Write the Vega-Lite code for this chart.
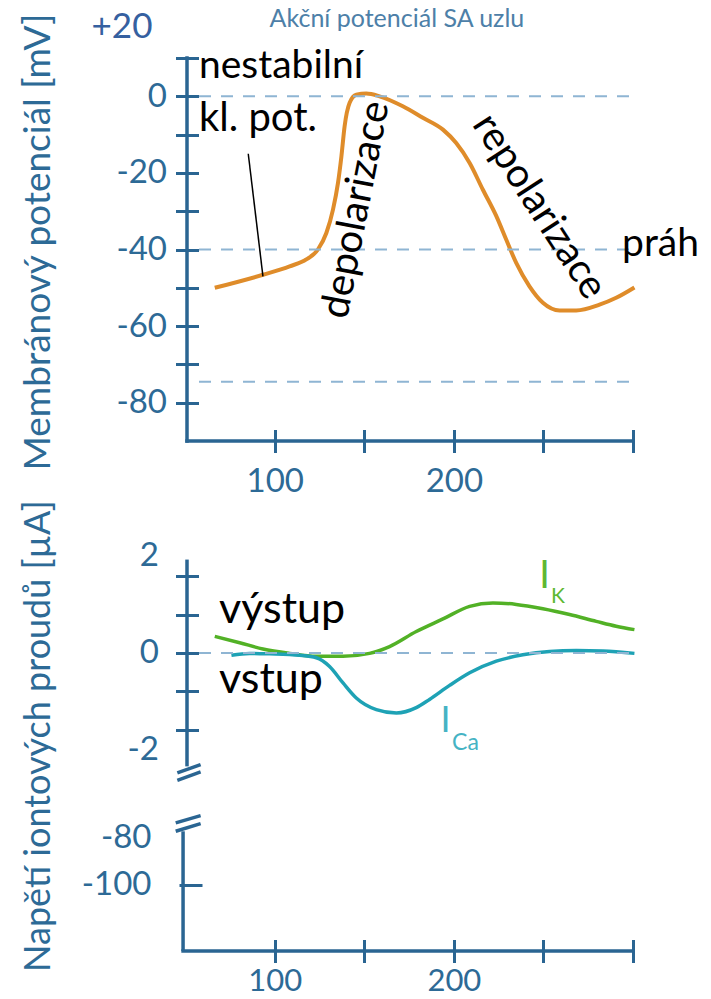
{
  "$schema": "https://vega.github.io/schema/vega-lite/v6.json",
  "background": "white",
  "padding": {"left": 18, "top": 6, "right": 5, "bottom": 0},
  "bounds": "flush",
  "spacing": 0,
  "config": {
    "view": {"stroke": null},
    "font": "Lato",
    "axis": {
      "domain": false, "grid": false,
      "tickColor": "#2a6592", "tickWidth": 3, "tickSize": 23, "offset": -11.5,
      "labelColor": "#2d6a96", "labelFont": "Lato", "labelFontSize": 33,
      "titleColor": "#2d6a96", "titleFont": "Lato", "titleFontSize": 37, "titleFontWeight": "normal",
      "labelFlush": false, "labelOverlap": false
    }
  },
  "vconcat": [
    {
      "width": 446, "height": 383,
      "layer": [
        {
          "data": {"values": [
            {"t": 66.5, "v": -50.0}, {"t": 93.4, "v": -46.6}, {"t": 108.3, "v": -44.4}, {"t": 117.6, "v": -42.6},
            {"t": 124.1, "v": -40.0}, {"t": 128.8, "v": -35.7}, {"t": 132.5, "v": -29.6}, {"t": 135.3, "v": -22.6},
            {"t": 137.2, "v": -15.7}, {"t": 139.0, "v": -7.8}, {"t": 141.8, "v": -1.7}, {"t": 145.5, "v": 0.4},
            {"t": 151.1, "v": 0.7}, {"t": 158.5, "v": 0.0}, {"t": 171.5, "v": -2.6}, {"t": 182.7, "v": -5.6},
            {"t": 193.9, "v": -8.7}, {"t": 201.3, "v": -12.2}, {"t": 208.8, "v": -17.4}, {"t": 216.2, "v": -24.4},
            {"t": 223.7, "v": -31.3}, {"t": 229.2, "v": -37.4}, {"t": 234.8, "v": -43.5}, {"t": 242.2, "v": -49.6},
            {"t": 249.7, "v": -53.9}, {"t": 259.0, "v": -55.9}, {"t": 268.3, "v": -55.9}, {"t": 281.3, "v": -54.4},
            {"t": 290.6, "v": -52.6}, {"t": 300.8, "v": -49.9}
          ]},
          "mark": {"type": "line", "color": "#df8c2a", "strokeWidth": 4, "interpolate": "monotone"},
          "encoding": {
            "x": {"field": "t", "type": "quantitative", "scale": {"domain": [51, 300], "nice": false, "zero": false},
                  "axis": {"values": [100, 150, 200, 250, 300], "labelExpr": "datum.value == 100 || datum.value == 200 ? datum.label : ''", "labelPadding": 13, "title": null}},
            "y": {"field": "v", "type": "quantitative", "scale": {"domain": [-90, 10], "nice": false, "zero": false},
                  "axis": {"values": [10, 0, -10, -20, -30, -40, -50, -60, -70, -80],
                           "labelExpr": "datum.value % 20 == 0 ? replace(datum.label, '\u2212', '-') : ''",
                           "labelPadding": 9, "title": "Membránový potenciál [mV]",
                           "titleX": -149.5, "titleY": 183.6, "titleAngle": 270, "titleAlign": "center", "titleBaseline": "alphabetic"}}
          }
        },
        {
          "data": {"values": [{"v": 0}, {"v": -40}, {"v": -74.5}]},
          "mark": {"type": "rule", "color": "#8fb5d3", "strokeWidth": 2, "strokeDash": [12, 10]},
          "encoding": {"x": {"datum": 57.7}, "x2": {"datum": 300.6}, "y": {"field": "v", "type": "quantitative"}}
        },
        {
          "data": {"values": [{}]},
          "mark": {"type": "rule", "color": "#2a6592", "strokeWidth": 3.5, "strokeCap": "square"},
          "encoding": {"x": {"datum": 51}, "y": {"datum": -90}, "y2": {"datum": 10}}
        },
        {
          "data": {"values": [{}]},
          "mark": {"type": "rule", "color": "#2a6592", "strokeWidth": 3.5, "strokeCap": "square"},
          "encoding": {"x": {"datum": 51}, "x2": {"datum": 300}, "y": {"datum": -90}}
        },
        {
          "data": {"values": [{}]},
          "mark": {"type": "rule", "color": "black", "strokeWidth": 1.5},
          "encoding": {"x": {"datum": 85.2}, "x2": {"datum": 93.4}, "y": {"datum": -15.0}, "y2": {"datum": -47.0}}
        },
        {
          "data": {"values": [{}]},
          "mark": {"type": "text", "text": "Akční potenciál SA uzlu", "fontSize": 25, "color": "#4d80a8", "align": "center", "baseline": "alphabetic"},
          "encoding": {"x": {"datum": 168.2}, "y": {"datum": 18.2}}
        },
        {
          "data": {"values": [{}]},
          "mark": {"type": "text", "text": "+20", "fontSize": 35, "color": "#3560a0", "align": "center", "baseline": "middle"},
          "encoding": {"x": {"datum": 14.7}, "y": {"datum": 18.0}}
        },
        {
          "data": {"values": [{}]},
          "mark": {"type": "text", "text": "nestabilní", "fontSize": 39, "color": "black", "align": "left", "baseline": "alphabetic"},
          "encoding": {"x": {"datum": 57.7}, "y": {"datum": 4.9}}
        },
        {
          "data": {"values": [{}]},
          "mark": {"type": "text", "text": "kl. pot.", "fontSize": 40, "color": "black", "align": "left", "baseline": "alphabetic"},
          "encoding": {"x": {"datum": 57.7}, "y": {"datum": -9.1}}
        },
        {
          "data": {"values": [{}]},
          "mark": {"type": "text", "text": "depolarizace", "fontSize": 40, "color": "black", "align": "center", "baseline": "middle", "angle": 281},
          "encoding": {"x": {"datum": 145.4}, "y": {"datum": -29.6}}
        },
        {
          "data": {"values": [{}]},
          "mark": {"type": "text", "text": "repolarizace", "fontSize": 40, "color": "black", "align": "center", "baseline": "middle", "angle": 57},
          "encoding": {"x": {"datum": 247.6}, "y": {"datum": -28.8}}
        },
        {
          "data": {"values": [{}]},
          "mark": {"type": "text", "text": "práh", "fontSize": 39, "color": "black", "align": "left", "baseline": "alphabetic"},
          "encoding": {"x": {"datum": 293.9}, "y": {"datum": -41.8}}
        }
      ]
    },
    {
      "width": 446, "height": 391,
      "layer": [
        {
          "data": {"values": [
            {"t": 66.5, "i": 0.34, "ion": "K"}, {"t": 80.4, "i": 0.21, "ion": "K"}, {"t": 93.4, "i": 0.08, "ion": "K"},
            {"t": 108.3, "i": -0.01, "ion": "K"}, {"t": 123.2, "i": -0.07, "ion": "K"}, {"t": 138.1, "i": -0.07, "ion": "K"},
            {"t": 152.9, "i": -0.01, "ion": "K"}, {"t": 164.1, "i": 0.13, "ion": "K"}, {"t": 179.0, "i": 0.44, "ion": "K"},
            {"t": 193.9, "i": 0.70, "ion": "K"}, {"t": 208.8, "i": 0.96, "ion": "K"}, {"t": 221.8, "i": 1.03, "ion": "K"},
            {"t": 234.8, "i": 1.00, "ion": "K"}, {"t": 249.7, "i": 0.91, "ion": "K"}, {"t": 264.6, "i": 0.79, "ion": "K"},
            {"t": 279.5, "i": 0.65, "ion": "K"}, {"t": 290.6, "i": 0.55, "ion": "K"}, {"t": 300.8, "i": 0.48, "ion": "K"},
            {"t": 75.8, "i": -0.05, "ion": "Ca"}, {"t": 86.0, "i": -0.01, "ion": "Ca"}, {"t": 97.2, "i": -0.02, "ion": "Ca"},
            {"t": 113.9, "i": -0.05, "ion": "Ca"}, {"t": 123.2, "i": -0.10, "ion": "Ca"}, {"t": 130.6, "i": -0.28, "ion": "Ca"},
            {"t": 138.1, "i": -0.62, "ion": "Ca"}, {"t": 145.5, "i": -0.93, "ion": "Ca"}, {"t": 156.7, "i": -1.17, "ion": "Ca"},
            {"t": 167.9, "i": -1.24, "ion": "Ca"}, {"t": 179.0, "i": -1.13, "ion": "Ca"}, {"t": 186.4, "i": -0.96, "ion": "Ca"},
            {"t": 197.6, "i": -0.67, "ion": "Ca"}, {"t": 208.8, "i": -0.41, "ion": "Ca"}, {"t": 223.7, "i": -0.17, "ion": "Ca"},
            {"t": 238.5, "i": -0.04, "ion": "Ca"}, {"t": 253.4, "i": 0.03, "ion": "Ca"}, {"t": 268.3, "i": 0.05, "ion": "Ca"},
            {"t": 283.2, "i": 0.04, "ion": "Ca"}, {"t": 300.8, "i": -0.01, "ion": "Ca"}
          ]},
          "mark": {"type": "line", "strokeWidth": 3.5, "interpolate": "monotone"},
          "encoding": {
            "x": {"field": "t", "type": "quantitative", "scale": {"domain": [51, 300], "nice": false, "zero": false}, "axis": null},
            "y": {"field": "i", "type": "quantitative", "scale": {"domain": [-3.693, 4.369], "nice": false, "zero": false},
                  "axis": {"values": [-2, -1.58, -0.79, 0, 0.79, 1.58, 2],
                           "tickOpacity": {"condition": {"test": "abs(datum.value) == 2", "value": 0}, "value": 1},
                           "labelExpr": "abs(datum.value) == 2 || datum.value == 0 ? replace(datum.label, '\u2212', '-') : ''",
                           "labelPadding": 17, "title": "Napětí iontových proudů [µA]",
                           "titleX": -149.5, "titleY": 294.6, "titleAngle": 270, "titleAlign": "center", "titleBaseline": "alphabetic", "titleFontSize": 36}},
            "color": {"field": "ion", "type": "nominal", "scale": {"domain": ["K", "Ca"], "range": ["#52b126", "#1ea2b5"]}, "legend": null}
          }
        },
        {
          "data": {"values": [{}]},
          "mark": {"type": "rule", "color": "#8fb5d3", "strokeWidth": 2, "strokeDash": [12, 10]},
          "encoding": {"x": {"datum": 57.7, "axis": null}, "x2": {"datum": 300.6}, "y": {"datum": 0}}
        },
        {
          "data": {"values": [{}]},
          "mark": {"type": "rule", "color": "#2a6592", "strokeWidth": 3.5, "strokeCap": "butt"},
          "encoding": {"x": {"datum": 51, "axis": null}, "y": {"datum": -2.34}, "y2": {"datum": 1.924}}
        },
        {
          "data": {"values": [{}]},
          "mark": {"type": "rule", "color": "#2a6592", "strokeWidth": 3.5},
          "encoding": {"x": {"datum": 45.6, "axis": null}, "x2": {"datum": 58.6}, "y": {"datum": -2.474}, "y2": {"datum": -2.303}}
        },
        {
          "data": {"values": [{}]},
          "mark": {"type": "rule", "color": "#2a6592", "strokeWidth": 3.5},
          "encoding": {"x": {"datum": 45.6, "axis": null}, "x2": {"datum": 58.6}, "y": {"datum": -2.627}, "y2": {"datum": -2.454}}
        },
        {
          "data": {"values": [{}]},
          "mark": {"type": "text", "text": "výstup", "fontSize": 43, "color": "black", "align": "left", "baseline": "alphabetic"},
          "encoding": {"x": {"datum": 68.9, "axis": null}, "y": {"datum": 0.62}}
        },
        {
          "data": {"values": [{}]},
          "mark": {"type": "text", "text": "vstup", "fontSize": 43, "color": "black", "align": "left", "baseline": "alphabetic"},
          "encoding": {"x": {"datum": 68.9, "axis": null}, "y": {"datum": -0.825}}
        },
        {
          "data": {"values": [{}]},
          "mark": {"type": "text", "text": "I", "fontSize": 38, "color": "#5db832", "align": "center", "baseline": "alphabetic"},
          "encoding": {"x": {"datum": 250.6, "axis": null}, "y": {"datum": 1.346}}
        },
        {
          "data": {"values": [{}]},
          "mark": {"type": "text", "text": "K", "fontSize": 21, "color": "#5db832", "align": "left", "baseline": "alphabetic"},
          "encoding": {"x": {"datum": 254.2, "axis": null}, "y": {"datum": 1.037}}
        },
        {
          "data": {"values": [{}]},
          "mark": {"type": "text", "text": "I", "fontSize": 36, "color": "#45b3c4", "align": "center", "baseline": "alphabetic"},
          "encoding": {"x": {"datum": 195.3, "axis": null}, "y": {"datum": -1.641}}
        },
        {
          "data": {"values": [{}]},
          "mark": {"type": "text", "text": "Ca", "fontSize": 23, "color": "#45b3c4", "align": "left", "baseline": "alphabetic"},
          "encoding": {"x": {"datum": 199.0, "axis": null}, "y": {"datum": -1.993}}
        }
      ]
    },
    {
      "width": 446, "height": 119,
      "layer": [
        {
          "data": {"values": [{}]},
          "mark": {"type": "rule", "color": "#2a6592", "strokeWidth": 3.5, "strokeCap": "square"},
          "encoding": {
            "x": {"datum": 48.8, "scale": {"domain": [51, 300], "nice": false, "zero": false},
                  "axis": {"values": [100, 150, 200, 250, 300], "labelExpr": "datum.value == 100 || datum.value == 200 ? datum.label : ''", "labelPadding": 4, "labelFontSize": 31, "title": null}},
            "x2": {"datum": 300},
            "y": {"datum": -128.26, "scale": {"domain": [-128.26, -77.62], "nice": false, "zero": false},
                  "axis": {"values": [-100, -80], "offset": -15,
                           "tickOpacity": {"condition": {"test": "datum.value == -80", "value": 0}, "value": 1},
                           "labelExpr": "replace(datum.label, '\u2212', '-')", "labelPadding": 28, "title": null}}
          }
        },
        {
          "data": {"values": [{}]},
          "mark": {"type": "rule", "color": "#2a6592", "strokeWidth": 3.5, "strokeCap": "butt"},
          "encoding": {"x": {"datum": 48.8}, "y": {"datum": -77.32}, "y2": {"datum": -128.26}}
        },
        {
          "data": {"values": [{}]},
          "mark": {"type": "rule", "color": "#2a6592", "strokeWidth": 3.5},
          "encoding": {"x": {"datum": 44.7}, "x2": {"datum": 58.6}, "y": {"datum": -73.74}, "y2": {"datum": -70.64}}
        },
        {
          "data": {"values": [{}]},
          "mark": {"type": "rule", "color": "#2a6592", "strokeWidth": 3.5},
          "encoding": {"x": {"datum": 44.7}, "x2": {"datum": 58.6}, "y": {"datum": -77.32}, "y2": {"datum": -74.04}}
        }
      ]
    }
  ]
}
